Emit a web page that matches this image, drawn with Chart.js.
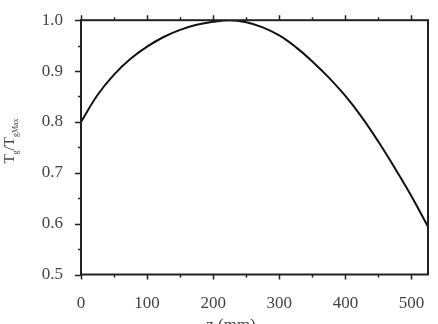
<!DOCTYPE html>
<html>
<head>
<meta charset="utf-8">
<script src="https://cdn.jsdelivr.net/npm/chart.js@4/dist/chart.umd.min.js"></script>
<style>
  html, body { margin: 0; padding: 0; background: #fff; }
  #wrap { width: 438px; height: 324px; }
</style>
</head>
<body>
<div id="wrap"><canvas id="chart"></canvas></div>
<script>
// z position along the axis (mm)
const zValues = [0, 25, 50, 75, 100, 125, 150, 175, 200, 225, 250, 275,
  300, 325, 350, 375, 400, 425, 450, 475, 500, 525];
// Tg / TgMax
const ratioValues = [0.800, 0.853, 0.893, 0.924, 0.948, 0.967, 0.981, 0.991,
  0.997, 1.000, 0.996, 0.986, 0.970, 0.947, 0.919, 0.887, 0.851, 0.809,
  0.761, 0.709, 0.654, 0.594];
const xTickLabels = [0, 100, 200, 300, 400, 500];
const yTickLabels = [0.5, 0.6, 0.7, 0.8, 0.9, 1.0];

const serif = "'Liberation Serif', 'DejaVu Serif', serif";
const axisColor = "#222";
const textColor = "#444";

// frame, outward ticks and the y title with subscripts
const framePlugin = {
  id: "frame",
  afterDraw(chart) {
    const { ctx, chartArea: a, scales } = chart;
    const xs = scales.x, ys = scales.y;
    ctx.save();
    ctx.strokeStyle = axisColor;
    ctx.lineWidth = 1.5;
    ctx.beginPath();
    // bottom + top ticks every 50
    for (let v = 0; v <= 525; v += 50) {
      const px = Math.round(xs.getPixelForValue(v)) + 0.5;
      const major = v % 100 === 0;
      ctx.moveTo(px, a.bottom);
      ctx.lineTo(px, a.bottom + (major ? 5 : 3));
      ctx.moveTo(px, a.top);
      ctx.lineTo(px, a.top - (major ? 5 : 3));
    }
    // left ticks every 0.05
    for (let i = 0; i <= 10; i++) {
      const v = 0.5 + i * 0.05;
      const py = Math.round(ys.getPixelForValue(v)) + 0.5;
      ctx.moveTo(a.left, py);
      ctx.lineTo(a.left - (i % 2 === 0 ? 6 : 3), py);
    }
    ctx.stroke();

    ctx.lineWidth = 2;
    ctx.strokeRect(a.left, a.top, a.right - a.left, a.bottom - a.top);

    // x title
    ctx.fillStyle = textColor;
    ctx.font = "17px " + serif;
    ctx.textAlign = "center";
    ctx.textBaseline = "alphabetic";
    ctx.fillText("z (mm)", 231, 330);

    // y title: T_g/T_gMax rotated
    ctx.translate(14, 141);
    ctx.rotate(-Math.PI / 2);
    const parts = [["T", 15, 0], ["g", 8, 4], ["/T", 15, 0], ["gMax", 8, 4]];
    let total = 0;
    parts.forEach(p => { ctx.font = p[1] + "px " + serif; total += ctx.measureText(p[0]).width; });
    let x = -total / 2;
    ctx.textAlign = "left";
    parts.forEach(p => {
      ctx.font = p[1] + "px " + serif;
      ctx.fillText(p[0], x, p[2]);
      x += ctx.measureText(p[0]).width;
    });
    ctx.restore();
  }
};

new Chart(document.getElementById("chart"), {
  type: "line",
  data: {
    datasets: [{
      data: zValues.map((z, i) => ({ x: z, y: ratioValues[i] })),
      borderColor: "#111",
      borderWidth: 2,
      pointRadius: 0,
      tension: 0.4,
      fill: false
    }]
  },
  options: {
    responsive: true,
    maintainAspectRatio: false,
    animation: false,
    layout: { padding: { top: 10, right: 10, left: 0, bottom: 0 } },
    plugins: { legend: { display: false }, tooltip: { enabled: false } },
    scales: {
      x: {
        type: "linear",
        min: 0,
        max: 525,
        afterBuildTicks: s => { s.ticks = xTickLabels.map(v => ({ value: v })); },
        afterFit: s => { s.height = 49.5; },
        grid: { display: false },
        border: { display: false },
        ticks: { color: textColor, font: { family: serif, size: 17 }, padding: 11, maxRotation: 0 }
      },
      y: {
        min: 0.5,
        max: 1.0,
        afterBuildTicks: s => { s.ticks = yTickLabels.map(v => ({ value: v })); },
        afterFit: s => { s.width = 81; },
        grid: { display: false },
        border: { display: false },
        ticks: {
          color: textColor,
          font: { family: serif, size: 17 },
          padding: 10,
          callback: v => v.toFixed(1)
        }
      }
    }
  },
  plugins: [framePlugin]
});
</script>
</body>
</html>
